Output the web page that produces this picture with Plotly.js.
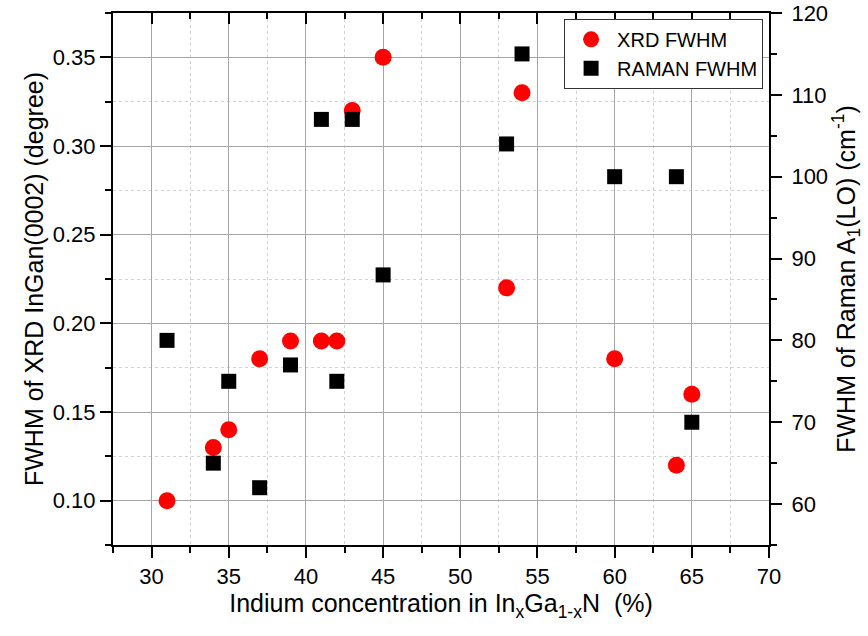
<!DOCTYPE html>
<html>
<head>
<meta charset="utf-8">
<script src="https://cdn.plot.ly/plotly-3.0.1.min.js"></script>
<style>html,body{margin:0;padding:0;background:#fff;}#chart{width:868px;height:636px;}</style>
</head>
<body>
<div id="chart"></div>
<script>
// Indium concentration (%)
const indium = [31, 34, 35, 37, 39, 41, 42, 43, 45, 53, 54, 60, 64, 65];
// FWHM of XRD InGaN(0002) (degree)
const xrdFwhm = [0.10, 0.13, 0.14, 0.18, 0.19, 0.19, 0.19, 0.32, 0.35, 0.22, 0.33, 0.18, 0.12, 0.16];
// FWHM of Raman A1(LO) (cm^-1)
const ramanFwhm = [80, 65, 75, 62, 77, 107, 75, 107, 88, 104, 115, 100, 100, 70];

const seriesNames = ["XRD FWHM", "RAMAN FWHM"];

const FONT = "Liberation Sans, Arial, sans-serif";

const traces = [
  {
    x: indium, y: xrdFwhm, type: "scatter", mode: "markers", name: seriesNames[0],
    xaxis: "x", yaxis: "y",
    marker: {symbol: "circle", size: 17, color: "#ff0000", line: {width: 0}}
  },
  {
    x: indium, y: ramanFwhm, type: "scatter", mode: "markers", name: seriesNames[1],
    xaxis: "x", yaxis: "y2",
    marker: {symbol: "square", size: 15, color: "#000000", line: {width: 0}}
  },
  {
    x: [], y: [], type: "scatter", mode: "markers", xaxis: "x2", yaxis: "y",
    showlegend: false, hoverinfo: "skip"
  }
];

const layout = {
  width: 868, height: 636,
  margin: {l: 113, r: 99, t: 13, b: 91, pad: 0},
  paper_bgcolor: "#ffffff", plot_bgcolor: "#ffffff",
  font: {family: FONT, size: 22, color: "#000"},
  showlegend: true,
  legend: {
    x: 0.991, y: 0.989, xanchor: "right", yanchor: "top",
    bgcolor: "#ffffff", bordercolor: "#333", borderwidth: 1,
    font: {family: FONT, size: 20, color: "#000"},
    itemwidth: 42,
    tracegroupgap: 0
  },
  xaxis: {
    range: [27.5, 70], tick0: 30, dtick: 5, tickmode: "linear",
    ticks: "outside", ticklen: 11, tickwidth: 2, tickcolor: "#000",
    showline: true, linewidth: 2, linecolor: "#000",
    showgrid: true, gridcolor: "#a6a6a6", gridwidth: 1,
    zeroline: false,
    tickfont: {family: FONT, size: 22},
    minor: {dtick: 2.5, tick0: 27.5, ticks: "outside", ticklen: 6, tickwidth: 2, tickcolor: "#000",
            showgrid: true, gridcolor: "#d2d2d2", griddash: "3px,3px", gridwidth: 1},
    title: {text: "Indium concentration in In<sub>x</sub>Ga<sub>1-x</sub>N  (%)", font: {family: FONT, size: 25}, standoff: 6}
  },
  xaxis2: {
    overlaying: "x", matches: "x", side: "top", anchor: "y",
    range: [27.5, 70], tick0: 30, dtick: 5, tickmode: "linear",
    ticks: "inside", ticklen: 11, tickwidth: 2, tickcolor: "#000",
    showline: true, linewidth: 2, linecolor: "#000",
    showgrid: false, zeroline: false, showticklabels: false,
    minor: {dtick: 2.5, tick0: 27.5, ticks: "inside", ticklen: 6, tickwidth: 2, tickcolor: "#000", showgrid: false}
  },
  yaxis: {
    range: [0.075, 0.375], tick0: 0.1, dtick: 0.05, tickmode: "linear", tickformat: ".2f",
    ticks: "outside", ticklen: 11, tickwidth: 2, tickcolor: "#000",
    showline: true, linewidth: 2, linecolor: "#000",
    showgrid: true, gridcolor: "#a6a6a6", gridwidth: 1,
    zeroline: false,
    tickfont: {family: FONT, size: 22},
    minor: {dtick: 0.025, tick0: 0.075, ticks: "outside", ticklen: 6, tickwidth: 2, tickcolor: "#000",
            showgrid: true, gridcolor: "#d2d2d2", griddash: "3px,3px", gridwidth: 1},
    title: {text: "FWHM of XRD InGan(0002) (degree)", font: {family: FONT, size: 25}, standoff: 2}
  },
  yaxis2: {
    overlaying: "y", side: "right", anchor: "x",
    range: [55, 120], tick0: 60, dtick: 10, tickmode: "linear",
    ticks: "outside", ticklen: 11, tickwidth: 2, tickcolor: "#000",
    showline: true, linewidth: 2, linecolor: "#000",
    showgrid: false, zeroline: false,
    ticklabelstandoff: 5,
    tickfont: {family: FONT, size: 22},
    minor: {dtick: 5, tick0: 55, ticks: "outside", ticklen: 6, tickwidth: 2, tickcolor: "#000", showgrid: false},
    title: {text: "FWHM of Raman A<sub>1</sub>(LO) (cm<sup>-1</sup>)", font: {family: FONT, size: 25}, standoff: 8}
  }
};

Plotly.newPlot("chart", traces, layout, {displayModeBar: false, staticPlot: true});
</script>
</body>
</html>
